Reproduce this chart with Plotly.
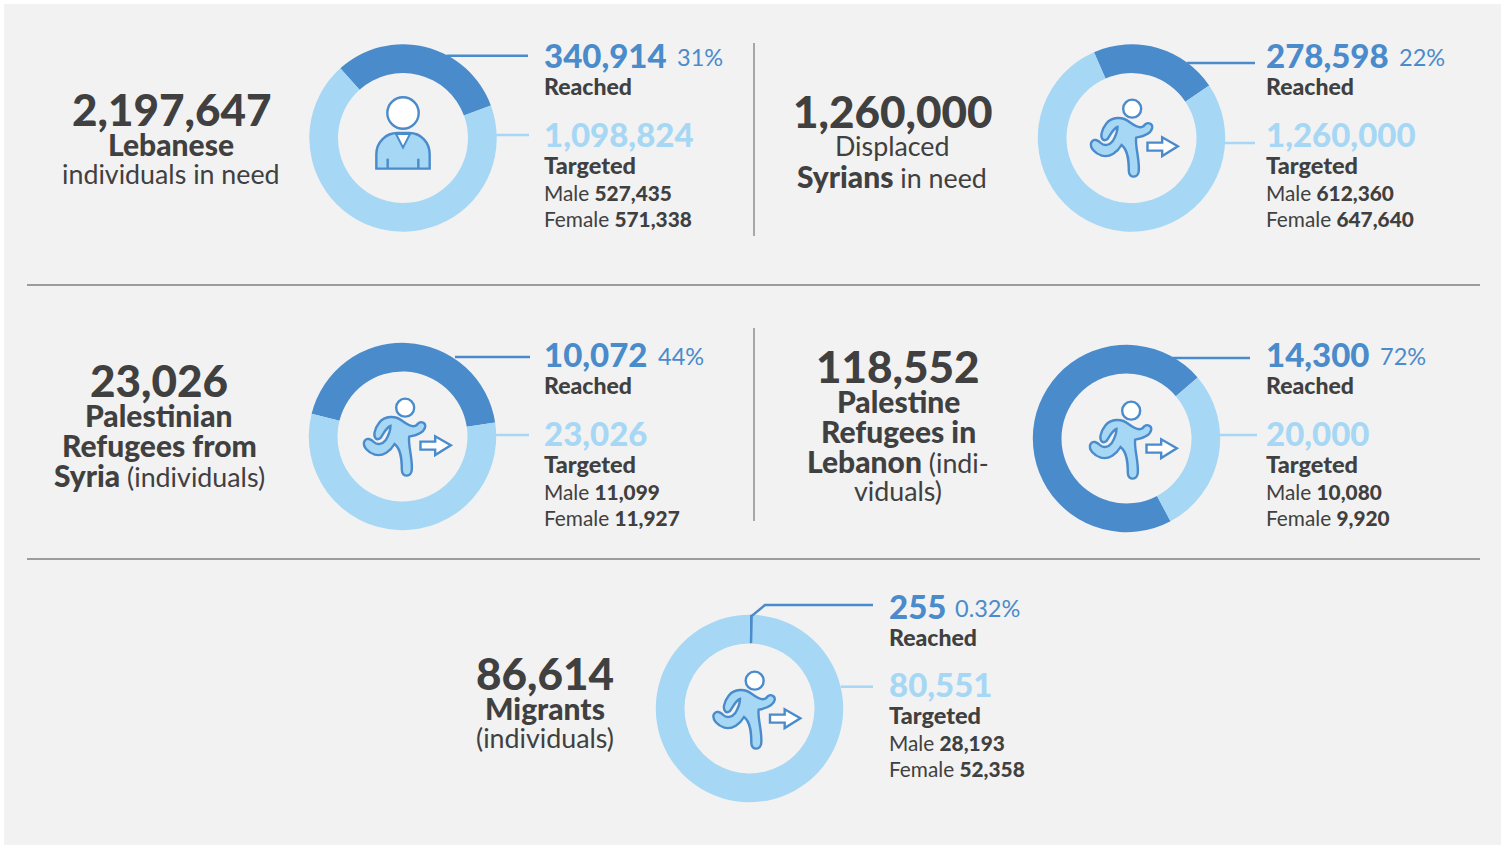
import plotly.graph_objects as go

W, H = 1505, 845
BG = "#f2f2f2"; DARK = "#4a8bcb"; LIGHT = "#a6d7f4"; TEXT = "#404040"; RULE = "#7f7f7f"
FONT = "Lato, sans-serif"

groups = ["Lebanese", "Displaced Syrians", "PRS", "PRL", "Migrants"]
reached = [340914, 278598, 10072, 14300, 255]
targeted = [1098824, 1260000, 23026, 20000, 80551]
male = [527435, 612360, 11099, 10080, 28193]
female = [571338, 647640, 11927, 9920, 52358]
need = [2197647, 1260000, 23026, 118552, 86614]
pct_labels = ["31%", "22%", "44%", "72%", "0.32%"]
need_labels = [
    ["*Lebanese*", "individuals in need"],
    ["Displaced", "*Syrians* in need"],
    ["*Palestinian*", "*Refugees from*", "*Syria* (individuals)"],
    ["*Palestine*", "*Refugees in*", "*Lebanon* (indi-", "viduals)"],
    ["*Migrants*", "(individuals)"],
]

centers = [(403, 138), (1131.5, 138), (402.5, 436.5), (1126.5, 438.5), (749.5, 708.5)]
icon_shift = [(0, 0), (0, 0), (2, 0.5), (4, 1.5), (4.5, 1.5)]
rotations = [-42, -23.6, -76, 152, 0.3]
R, r = 93.7, 65
need_pos = [(171, 109), (892, 111), (159, 380), (898, 366), (545, 673)]
text_x = [544, 1266, 544, 1266, 889]
num_y = [55, 55, 354, 354, 606]
pct_x = [677, 1399, 658, 1380, 955]
targ_y = [134, 134, 433, 433, 684]
dark_lines = [
    [(447, 55.7), (528, 55.7)],
    [(1187, 63), (1255, 63)],
    [(455, 357), (530, 357)],
    [(1172, 358), (1250, 358)],
    [(751, 643), (751.6, 616), (765, 605), (873, 605)],
]
light_lines = [
    [(496, 135), (529, 135)],
    [(1224, 143), (1255, 143)],
    [(495, 435), (529, 435)],
    [(1219, 435), (1257, 435)],
    [(841, 686.7), (873, 686.7)],
]

fig = go.Figure()
shapes = []
ann = []


def heavy(s, size=None):
    extra = f";font-size:{size}px" if size else ""
    return f'<span style="font-weight:900{extra}">{s}</span>'


def rich(s):
    parts = s.split("*")
    return "".join(heavy(p, 30) if k % 2 else p for k, p in enumerate(parts))


def text(x, y, s, size, color=TEXT, anchor="left"):
    ann.append(dict(x=x, y=y, text=s, xref="x", yref="y", showarrow=False, xanchor=anchor,
                    yanchor="middle", align=anchor, font=dict(family=FONT, size=size, color=color),
                    borderpad=0, borderwidth=0))


def line(pts, color, width):
    d = "M" + " L".join(f"{x},{y}" for x, y in pts)
    shapes.append(dict(type="path", path=d, xref="x", yref="y", line=dict(color=color, width=width)))


def path(cx, cy, zx, zy, d, fill, w=2.4, color=DARK):
    """d is a list of (cmd, coords) traced on a 3x crop and drawn at 1/3 scale."""
    out = []
    for cmd, pts in d:
        if cmd == "L":
            out.extend(f"L{cx + (px - zx) / 3:.2f},{cy + (py - zy) / 3:.2f}" for px, py in pts)
        else:
            out.append(cmd + " ".join(f"{cx + (px - zx) / 3:.2f},{cy + (py - zy) / 3:.2f}" for px, py in pts))
    shapes.append(dict(type="path", path=" ".join(out), xref="x", yref="y",
                       fillcolor=fill, line=dict(color=color, width=w)))


def circle(cx, cy, rad, fill, w=2.4):
    shapes.append(dict(type="circle", xref="x", yref="y", x0=cx - rad, x1=cx + rad, y0=cy - rad, y1=cy + rad,
                       fillcolor=fill, line=dict(color=DARK, width=w)))


def person(cx, cy):
    zx, zy = 309, 323
    circle(cx, cy + (248 - zy) / 3, 15.7, "white")
    path(cx, cy, zx, zy, [("M", [(229, 415)]), ("L", [(229, 372)]), ("C", [(229, 335), (258, 308), (292, 308)]),
                          ("L", [(328, 308)]), ("C", [(362, 308), (389, 335), (389, 372)]), ("L", [(389, 415)]), ("Z", [])], LIGHT)
    path(cx, cy, zx, zy, [("M", [(288, 311)]), ("L", [(330, 311), (309, 352)]), ("Z", [])], "white", 2)
    path(cx, cy, zx, zy, [("M", [(263, 385)]), ("L", [(263, 413)])], "rgba(0,0,0,0)")
    path(cx, cy, zx, zy, [("M", [(355, 385)]), ("L", [(355, 413)])], "rgba(0,0,0,0)")


def runner(cx, cy):
    zx, zy = 304, 323
    circle(cx + (306 - zx) / 3, cy + (235 - zy) / 3, 9, "white")
    body = [("M", [(228, 280)]),
            ("C", [(245, 258), (278, 258), (298, 275)]),
            ("C", [(315, 288), (330, 295), (340, 288)]),
            ("C", [(350, 272), (368, 278), (366, 293)]),
            ("C", [(362, 312), (340, 318), (318, 322)]),
            ("C", [(314, 345), (328, 385), (326, 420)]),
            ("C", [(326, 445), (296, 445), (296, 422)]),
            ("C", [(296, 395), (295, 360), (274, 344)]),
            ("C", [(262, 365), (240, 382), (215, 376)]),
            ("C", [(195, 370), (178, 352), (183, 337)]),
            ("C", [(190, 322), (205, 330), (212, 338)]),
            ("C", [(222, 348), (238, 345), (248, 332)]),
            ("C", [(255, 320), (262, 305), (262, 290)]),
            ("C", [(248, 295), (240, 315), (232, 326)]),
            ("C", [(220, 335), (212, 325), (214, 310)]),
            ("C", [(216, 298), (220, 290), (228, 280)]),
            ("Z", [])]
    path(cx, cy, zx, zy, body, LIGHT)
    path(cx, cy, zx, zy, [("M", [(352, 337)]), ("L", [(396, 337), (396, 321), (443, 348), (396, 377), (396, 361), (352, 361)]), ("Z", [])], "white")


# panel and rules
shapes.append(dict(type="rect", xref="x", yref="y", x0=4, x1=1501, y0=4, y1=845, fillcolor=BG, line=dict(width=0), layer="below"))
line([(27, 285), (1480, 285)], RULE, 1.3)
line([(27, 559), (1480, 559)], RULE, 1.3)
line([(754, 43), (754, 236)], RULE, 1.3)
line([(754, 328), (754, 521)], RULE, 1.3)

for i, g in enumerate(groups):
    cx, cy = centers[i]
    fig.add_trace(go.Pie(
        values=[reached[i], targeted[i] - reached[i]], labels=["Reached", "Targeted"], name=g,
        hole=r / R, sort=False, direction="clockwise", rotation=rotations[i], textinfo="none",
        marker=dict(colors=[DARK, LIGHT], line=dict(width=0)), showlegend=False, hoverinfo="label+value",
        domain=dict(x=[(cx - R) / W, (cx + R) / W], y=[1 - (cy + R) / H, 1 - (cy - R) / H]),
    ))
    line(dark_lines[i], DARK, 2.5)
    line(light_lines[i], LIGHT, 2.5)
    sx, sy = icon_shift[i]
    if i == 0:
        person(cx + sx, cy + sy)
    else:
        runner(cx + sx, cy + sy)
    nx, ny = need_pos[i]
    text(nx, ny, heavy(f"{need[i]:,}"), 44, TEXT, "center")
    for j, s in enumerate(need_labels[i]):
        text(nx, ny + 35 + 30 * j, rich(s), 26.8, TEXT, "center")
    tx = text_x[i]
    text(tx, num_y[i], heavy(f"{reached[i]:,}"), 33, DARK)
    text(pct_x[i], num_y[i] + 2, pct_labels[i], 23.5, DARK)
    text(tx, num_y[i] + 31, heavy("Reached"), 23)
    text(tx, targ_y[i], heavy(f"{targeted[i]:,}"), 33, LIGHT)
    text(tx, targ_y[i] + 31, heavy("Targeted"), 23.5)
    text(tx, targ_y[i] + 58, "Male " + heavy(f"{male[i]:,}"), 20.8)
    text(tx, targ_y[i] + 84, "Female " + heavy(f"{female[i]:,}"), 20.8)

fig.update_layout(
    width=W, height=H, margin=dict(l=0, r=0, t=0, b=0), paper_bgcolor="white", plot_bgcolor="rgba(0,0,0,0)",
    xaxis=dict(range=[0, W], visible=False, fixedrange=True),
    yaxis=dict(range=[H, 0], visible=False, fixedrange=True),
    shapes=shapes, annotations=ann, showlegend=False,
)
fig.write_html("out.html", config=dict(displayModeBar=False),
               post_script="document.body.style.margin='0';document.documentElement.style.overflow='hidden';")
